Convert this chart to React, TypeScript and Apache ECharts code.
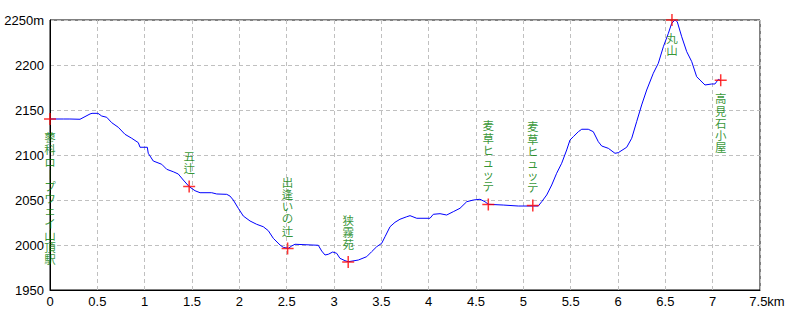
import React, { useEffect, useRef } from "react";
import * as echarts from "echarts";

// Elevation profile (distance in km, elevation in m)
const distanceKm = [
  0, 0.14, 0.21, 0.317, 0.423, 0.444, 0.507, 0.546, 0.599, 0.652, 0.721, 0.792, 0.863, 0.933, 0.951,
  1.028, 1.038, 1.091, 1.18, 1.233, 1.302, 1.355, 1.408, 1.471, 1.532, 1.585, 1.708, 1.761, 1.867,
  1.901, 1.936, 1.989, 2.042, 2.113, 2.183, 2.253, 2.306, 2.359, 2.43, 2.464, 2.517, 2.553, 2.588,
  2.834, 2.87, 2.905, 2.94, 2.986, 3.028, 3.063, 3.116, 3.151, 3.257, 3.345, 3.398, 3.451, 3.504,
  3.539, 3.592, 3.644, 3.697, 3.768, 3.803, 3.874, 4.014, 4.049, 4.12, 4.19, 4.26, 4.331, 4.402,
  4.472, 4.542, 4.595, 4.63, 4.788, 4.947, 5.105, 5.158, 5.194, 5.247, 5.3, 5.352, 5.405, 5.458,
  5.493, 5.528, 5.581, 5.617, 5.686, 5.739, 5.792, 5.828, 5.898, 5.968, 6.003, 6.092, 6.145, 6.197,
  6.25, 6.303, 6.373, 6.426, 6.479, 6.532, 6.567, 6.602, 6.626, 6.673, 6.726, 6.779, 6.831, 6.866,
  6.919, 6.99, 7.024, 7.06, 7.085,
];
const elevationM = [
  2140, 2140, 2140, 2139.7, 2145.6, 2146.3, 2146.3, 2143.3, 2141.9, 2135.9, 2130.8, 2123, 2118.6,
  2113.7, 2108.6, 2108.6, 2101.9, 2093.3, 2089.7, 2084.1, 2081.4, 2078.9, 2072.2, 2064.8, 2060.3,
  2058.1, 2058.1, 2056.7, 2056.3, 2054.4, 2050, 2040.8, 2032.2, 2026.7, 2023, 2020.3, 2015.9, 2007.4,
  2000, 1997.4, 1996.3, 1998.9, 2000.8, 1999.7, 1993.3, 1988.9, 1989.7, 1992.2, 1990.8, 1985.2,
  1982.6, 1981.4, 1983.3, 1987, 1992.6, 1998.1, 2001.9, 2009.2, 2020.3, 2025.2, 2028.6, 2031.4,
  2032.6, 2029.7, 2029.7, 2034.1, 2034.8, 2033.3, 2037, 2040.8, 2048.1, 2050, 2050.8, 2048.1, 2045.2,
  2044.4, 2043.3, 2043.3, 2043.3, 2048.1, 2055.6, 2066.7, 2079.7, 2090.8, 2105.6, 2116.7, 2120.3,
  2125.9, 2128.6, 2128.6, 2125.9, 2114.8, 2110, 2107.4, 2101.9, 2102.6, 2108.6, 2118.6, 2137,
  2155.6, 2172.2, 2190.8, 2201.9, 2220.3, 2235.2, 2246.3, 2250, 2248.1, 2231.4, 2214.8, 2203.7,
  2187, 2183.3, 2177.8, 2178.9, 2178.9, 2184.1, 2182.6,
];

// Waypoints
const stationNames = [
  "蓼科ロープウェイ山頂駅",
  "五辻",
  "出逢いの辻",
  "狭霧苑",
  "麦草ヒュッテ",
  "麦草ヒュッテ",
  "丸山",
  "高見石小屋",
];
const stationKm = [0, 1.47, 2.51, 3.15, 4.63, 5.1, 6.57, 7.085];
const stationElev = [2140, 2065, 1996, 1981, 2045, 2044, 2250, 2183];
const stationLabelSide = ["bottom", "top", "top", "top", "top", "top", "bottom", "bottom"];

const toVertical = (s: string) =>
  s
    .split("")
    .map((c) => (c === "ー" ? "︱" : c))
    .join("\n");

const CROSS = "path://M5.25,0h1.5v5.25h5.25v1.5h-5.25v5.25h-1.5v-5.25h-5.25v-1.5h5.25z";

export default function App() {
  const ref = useRef<HTMLDivElement>(null);
  useEffect(() => {
    if (!ref.current) return;
    const chart = echarts.init(ref.current, undefined, { renderer: "svg" });
    const tickFont = "'Liberation Sans Narrow', 'Liberation Sans', Arial, sans-serif";
    const option: any = {
      animation: false,
      backgroundColor: "#ffffff",
      grid: {
        left: 50,
        right: 40,
        top: 20,
        bottom: 30,
        show: true,
        borderColor: "#000000",
        borderWidth: 1,
        backgroundColor: "transparent",
      },
      xAxis: {
        type: "value",
        min: 0,
        max: 7.5,
        interval: 0.5,
        axisLine: { show: true, onZero: false, lineStyle: { color: "#000000", width: 1 } },
        axisTick: { show: false },
        splitLine: { show: true, lineStyle: { color: "#c0c0c0", type: [4, 3], width: 1 } },
        axisLabel: {
          margin: 5,
          color: "#000000",
          fontSize: 13,
          fontFamily: tickFont,
          formatter: (v: number) => (v === 7.5 ? "{k|7.5km}" : String(v)),
          rich: { k: { padding: [0, 0, 0, 14], fontSize: 13, fontFamily: tickFont, color: "#000000" } },
        },
      },
      yAxis: {
        type: "value",
        min: 1950,
        max: 2250,
        interval: 50,
        axisLine: { show: true, lineStyle: { color: "#000000", width: 1 } },
        axisTick: { show: false },
        splitLine: { show: true, lineStyle: { color: "#c0c0c0", type: [4, 3], width: 1 } },
        axisLabel: {
          margin: 6,
          color: "#000000",
          fontSize: 13,
          fontFamily: tickFont,
          formatter: (v: number) => (v === 2250 ? "2250m" : String(v)),
        },
      },
      series: [
        {
          type: "line",
          data: distanceKm.map((d, i) => [d, elevationM[i]]),
          showSymbol: false,
          symbol: "none",
          lineStyle: { color: "#0000ff", width: 1 },
          clip: false,
          z: 2,
        },
        {
          type: "scatter",
          symbol: CROSS,
          symbolSize: 12,
          itemStyle: { color: "#ff0000" },
          clip: false,
          z: 3,
          data: stationNames.map((n, i) => ({
            value: [stationKm[i], stationElev[i]],
            name: n,
            label: {
              show: true,
              position: stationLabelSide[i],
              distance: 6,
              formatter: toVertical(n),
              color: "#007a00",
              fontSize: 11.5,
              lineHeight: 12.2,
              fontFamily: "'Noto Sans CJK JP', sans-serif",
            },
          })),
        },
      ],
    };
    chart.setOption(option);
    return () => chart.dispose();
  }, []);
  return (
    <div
      ref={ref}
      style={{ position: "fixed", left: 0, top: 0, width: 800, height: 320, background: "#fff" }}
    />
  );
}
